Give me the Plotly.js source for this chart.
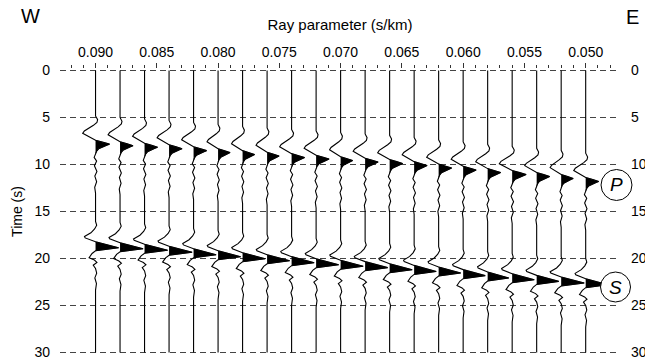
<!DOCTYPE html>
<html><head><meta charset="utf-8">
<script src="https://cdn.plot.ly/plotly-3.0.1.min.js"></script>
<style>html,body{margin:0;padding:0;background:#fff}#chart{width:645px;height:362px}</style>
</head><body><div id="chart"></div>
<script>
// ---- data ----
const rayParams = [0.090,0.088,0.086,0.084,0.082,0.080,0.078,0.076,0.074,0.072,0.070,0.068,0.066,0.064,0.062,0.060,0.058,0.056,0.054,0.052,0.050];
const pTimes = [7.84,8.00,8.16,8.32,8.53,8.74,8.95,9.11,9.27,9.43,9.59,9.75,9.90,10.12,10.38,10.60,10.86,11.07,11.28,11.49,11.80];
const sTimes = [18.86,18.96,19.12,19.33,19.60,19.81,20.02,20.23,20.44,20.66,20.82,20.97,21.19,21.37,21.54,21.82,22.07,22.25,22.43,22.60,22.78];
const pAmps = [0.57,0.53,0.53,0.53,0.53,0.49,0.49,0.49,0.53,0.53,0.49,0.53,0.53,0.53,0.53,0.53,0.53,0.57,0.53,0.49,0.53];
const sAmps = [0.94,0.94,0.94,0.94,0.92,0.92,0.92,0.92,0.92,0.92,0.92,0.92,0.92,0.90,0.90,0.90,0.86,0.90,0.90,0.94,0.90];
// wavelet shapes (time offset from peak, normalised amplitude)
const pWaveT = [-3.0,-2.6,-2.3,-2.0,-1.7,-1.4,-1.15,-0.42,-0.2,0,0.12,0.3,0.5,0.75,1.0,1.4,1.8,2.3,2.9,3.4,4.0,4.6,5.2];
const pWaveA = [0,0.15,0.1,-0.15,-0.45,-0.8,-0.92,0,0.55,1,0.8,0.45,0.22,0.08,0,-0.1,0.08,-0.08,0.1,-0.05,0.08,-0.06,0];
const pLobe = [7,14];
const sWaveT = [-2.8,-2.4,-2.0,-1.6,-1.2,-1.05,-0.64,0,0.32,0.6,1.05,1.3,1.55,1.85,2.2,2.7,3.2,3.8,4.5];
const sWaveA = [0,0.05,-0.04,-0.2,-0.48,-0.45,0,1,0,-0.15,-0.28,-0.05,0.06,-0.1,0,0.05,-0.03,0.04,0];
const sLobe = [6,8];
const timeStart = 0, timeEnd = 30;
const xTickVals = [0.090,0.085,0.080,0.075,0.070,0.065,0.060,0.055,0.050];
const xTickText = ['0.090','0.085','0.080','0.075','0.070','0.065','0.060','0.055','0.050'];
const yTickVals = [0,5,10,15,20,25,30];

// ---- build traces ----
const gain = 0.002; // one trace spacing per unit amplitude
const lineX = [], lineY = [], fillX = [], fillY = [];
rayParams.forEach((p, i) => {
  const pts = [[timeStart, 0]];
  pWaveT.forEach((dt, k) => pts.push([pTimes[i] + dt, pAmps[i] * pWaveA[k]]));
  sWaveT.forEach((dt, k) => pts.push([sTimes[i] + dt, sAmps[i] * sWaveA[k]]));
  pts.push([timeEnd, 0]);
  pts.forEach(([t, a]) => { lineX.push(p - a * gain); lineY.push(t); });
  lineX.push(null); lineY.push(null);
  for (let k = pLobe[0]; k <= pLobe[1]; k++) { fillX.push(p - pAmps[i] * pWaveA[k] * gain); fillY.push(pTimes[i] + pWaveT[k]); }
  fillX.push(null); fillY.push(null);
  for (let k = sLobe[0]; k <= sLobe[1]; k++) { fillX.push(p - sAmps[i] * sWaveA[k] * gain); fillY.push(sTimes[i] + sWaveT[k]); }
  fillX.push(null); fillY.push(null);
});

const data = [
  {type:'scatter', mode:'lines', x:fillX, y:fillY, fill:'toself', fillcolor:'#000', line:{color:'#000', width:0.6}, hoverinfo:'skip', connectgaps:false},
  {type:'scatter', mode:'lines', x:lineX, y:lineY, line:{color:'#000', width:1.1}, hoverinfo:'skip', connectgaps:false},
  {type:'scatter', mode:'lines', x:[rayParams[0]], y:[0], yaxis:'y2', line:{width:0}, hoverinfo:'skip', showlegend:false}
];

const font = 'Liberation Sans, Arial, Helvetica, sans-serif';
const yRange = [30.15, -0.15];
const layout = {
  width:645, height:362,
  margin:{l:60, r:25, t:69, b:8},
  paper_bgcolor:'#fff', plot_bgcolor:'#fff',
  showlegend:false,
  font:{family:font, size:14, color:'#000'},
  xaxis:{
    side:'top', range:[0.0929, 0.0472],
    tickmode:'array', tickvals:xTickVals, ticktext:xTickText,
    ticks:'outside', ticklen:5, tickcolor:'#333', tickwidth:1,
    minor:{dtick:0.001, tick0:0, ticks:'outside', ticklen:3, tickcolor:'#333'},
    showgrid:false, zeroline:false, showline:false,
    tickfont:{size:14},
    title:{text:'Ray parameter (s/km)', font:{size:15}, standoff:10}
  },
  yaxis:{
    range:yRange, tickmode:'array', tickvals:yTickVals,
    ticks:'', showgrid:true, gridcolor:'#444', gridwidth:1, griddash:'6px,4px',
    zeroline:false, showline:false, ticklabelstandoff:9,
    tickfont:{size:14},
    title:{text:'Time (s)', font:{size:14}, standoff:8}
  },
  yaxis2:{
    overlaying:'y', side:'right', range:yRange, tickmode:'array', tickvals:yTickVals,
    ticks:'', showgrid:false, zeroline:false, showline:false, ticklabelstandoff:10,
    tickfont:{size:14}
  },
  shapes:[
    {type:'circle', xref:'paper', yref:'paper', x0:0.9661, x1:1.0214, y0:0.5386, y1:0.6474, line:{color:'#000', width:1}, fillcolor:'#fff', layer:'above'},
    {type:'circle', xref:'paper', yref:'paper', x0:0.9652, x1:1.0188, y0:0.1825, y1:0.2877, line:{color:'#000', width:1}, fillcolor:'#fff', layer:'above'}
  ],
  annotations:[
    {text:'W', xref:'paper', yref:'paper', x:-0.0518, y:1.186, xanchor:'center', yanchor:'middle', showarrow:false, font:{size:20}},
    {text:'E', xref:'paper', yref:'paper', x:1.0232, y:1.182, xanchor:'center', yanchor:'middle', showarrow:false, font:{size:20}},
    {text:'<i>P</i>', xref:'paper', yref:'paper', x:0.9929, y:0.593, xanchor:'center', yanchor:'middle', showarrow:false, font:{size:19}},
    {text:'<i>S</i>', xref:'paper', yref:'paper', x:0.992, y:0.235, xanchor:'center', yanchor:'middle', showarrow:false, font:{size:19}}
  ]
};
Plotly.newPlot('chart', data, layout, {displayModeBar:false, staticPlot:true});
</script>
</body></html>
